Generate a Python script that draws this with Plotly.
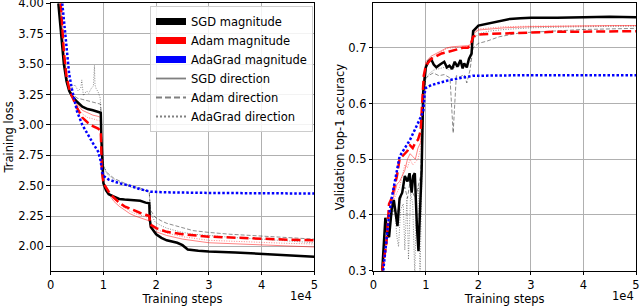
import plotly.graph_objects as go

# ---------------- Training loss (left panel) ----------------
loss_sgd_x = [1450, 2000, 2500, 3000, 3500, 4000, 5000, 6000, 7000, 8000, 9000, 9500, 9600, 9800, 10000, 10500, 11000, 12000, 13000, 14000, 15000, 16000, 17000, 18000, 18700, 18800, 19000, 20000, 21000, 22000, 23000, 24000, 25000, 26000, 28000, 30000, 35000, 40000, 45000, 50000]
loss_sgd = [4.00, 3.70, 3.50, 3.36, 3.28, 3.24, 3.19, 3.15, 3.13, 3.12, 3.11, 3.10, 2.90, 2.62, 2.52, 2.46, 2.43, 2.41, 2.39, 2.385, 2.38, 2.375, 2.375, 2.36, 2.355, 2.22, 2.16, 2.10, 2.07, 2.05, 2.04, 2.03, 2.01, 1.975, 1.965, 1.958, 1.95, 1.94, 1.93, 1.915]

loss_adam_x = [1900, 2500, 3000, 3500, 4000, 5000, 6000, 7000, 8000, 9000, 9500, 9700, 10000, 11000, 12000, 13000, 14000, 15000, 16000, 17000, 18000, 18700, 18900, 20000, 22000, 25000, 30000, 35000, 40000, 45000, 50000]
loss_adam = [4.00, 3.60, 3.40, 3.30, 3.24, 3.14, 3.06, 3.02, 2.99, 2.97, 2.95, 2.62, 2.52, 2.45, 2.40, 2.36, 2.33, 2.31, 2.29, 2.275, 2.26, 2.25, 2.18, 2.15, 2.12, 2.10, 2.08, 2.07, 2.06, 2.055, 2.05]

loss_adagrad_x = [2200, 2500, 3000, 3500, 4000, 4500, 5000, 6000, 7000, 8000, 9000, 9500, 9700, 10000, 11000, 13000, 15000, 17000, 19000, 22000, 30000, 40000, 50000]
loss_adagrad = [4.00, 3.85, 3.60, 3.42, 3.30, 3.20, 3.11, 3.00, 2.92, 2.85, 2.78, 2.70, 2.62, 2.58, 2.55, 2.52, 2.50, 2.47, 2.45, 2.445, 2.44, 2.44, 2.435]

# Adam magnitude + SGD direction (thin red solid)
loss_adam_sgd_x = [1900, 2500, 3000, 3500, 4000, 5000, 6000, 7000, 8000, 9000, 9500, 9700, 10000, 11000, 12000, 13000, 14000, 15000, 16000, 17000, 18000, 18700, 18900, 20000, 22000, 25000, 30000, 35000, 40000, 45000, 50000]
loss_adam_sgd = [4.00, 3.62, 3.41, 3.31, 3.25, 3.17, 3.12, 3.10, 3.08, 3.07, 3.06, 2.64, 2.52, 2.43, 2.37, 2.33, 2.30, 2.27, 2.25, 2.235, 2.22, 2.21, 2.15, 2.12, 2.09, 2.06, 2.03, 2.02, 2.01, 2.00, 1.995]

# Adam magnitude + AdaGrad direction (thin red dotted)
loss_adam_ada_x = [1900, 2500, 3000, 3500, 4000, 5000, 6000, 7000, 8000, 9000, 9500, 9700, 10000, 11000, 12000, 13000, 14000, 15000, 16000, 17000, 18000, 18700, 18900, 20000, 22000, 25000, 30000, 35000, 40000, 45000, 50000]
loss_adam_ada = [4.00, 3.61, 3.40, 3.30, 3.24, 3.15, 3.09, 3.06, 3.05, 3.04, 3.03, 2.63, 2.54, 2.44, 2.39, 2.35, 2.32, 2.29, 2.27, 2.255, 2.245, 2.235, 2.17, 2.14, 2.11, 2.08, 2.05, 2.04, 2.03, 2.025, 2.02]

# SGD magnitude + Adam direction (thin gray dashed)
loss_sgd_adam_x = [1450, 2000, 2500, 3000, 3500, 4000, 5000, 6000, 7000, 8000, 9000, 9500, 9700, 10000, 10600, 12000, 14000, 15000, 16000, 17000, 18000, 18700, 18900, 19800, 21000, 22000, 24500, 27000, 30000, 34000, 40000, 45000, 50000]
loss_sgd_adam = [4.00, 3.70, 3.50, 3.37, 3.30, 3.26, 3.22, 3.21, 3.20, 3.19, 3.18, 3.17, 2.80, 2.66, 2.61, 2.56, 2.52, 2.50, 2.49, 2.48, 2.46, 2.44, 2.30, 2.24, 2.21, 2.19, 2.16, 2.13, 2.115, 2.10, 2.085, 2.075, 2.06]

# SGD magnitude + AdaGrad direction (thin gray dotted)
loss_sgd_ada_x = [1450, 2000, 2500, 3000, 3500, 4000, 4600, 5200, 5700, 5900, 6200, 6800, 7200, 7700, 8100, 8300, 8400, 8600, 9000, 9400, 9700, 10000, 10600, 12000, 14000, 15000, 16000, 17000, 18000, 18700, 18900, 19800, 21000, 22000, 24500, 27000, 30000, 34000, 40000, 45000, 50000]
loss_sgd_ada = [4.00, 3.72, 3.52, 3.40, 3.33, 3.30, 3.33, 3.28, 3.30, 3.37, 3.24, 3.28, 3.26, 3.30, 3.32, 3.49, 3.33, 3.30, 3.27, 3.22, 2.85, 2.68, 2.60, 2.55, 2.51, 2.49, 2.48, 2.47, 2.46, 2.45, 2.28, 2.20, 2.17, 2.15, 2.12, 2.10, 2.09, 2.075, 2.06, 2.045, 2.03]

# ---------------- Validation accuracy (right panel) ----------------
acc_sgd_x = [1700, 2000, 2300, 2600, 3000, 3500, 3900, 4300, 4600, 5000, 5500, 6000, 6500, 6900, 7300, 7600, 7900, 8300, 8600, 8900, 9200, 9500, 10000, 10500, 11000, 11500, 12000, 12700, 13500, 14000, 14500, 15000, 15500, 16000, 16600, 17000, 17300, 17800, 18200, 18700, 19000, 20000, 21000, 22000, 23000, 24000, 25000, 26000, 28000, 30000, 35000, 40000, 45000, 50000]
acc_sgd = [0.30, 0.34, 0.395, 0.37, 0.36, 0.41, 0.427, 0.40, 0.38, 0.43, 0.44, 0.47, 0.46, 0.475, 0.44, 0.47, 0.475, 0.38, 0.335, 0.41, 0.48, 0.62, 0.665, 0.676, 0.68, 0.67, 0.665, 0.67, 0.675, 0.665, 0.668, 0.662, 0.675, 0.666, 0.678, 0.663, 0.672, 0.665, 0.68, 0.69, 0.73, 0.74, 0.742, 0.745, 0.747, 0.748, 0.75, 0.752, 0.753, 0.754, 0.754, 0.755, 0.756, 0.755]

acc_adam_x = [1700, 2500, 3000, 3500, 4000, 4500, 5000, 5500, 6000, 6500, 7000, 7500, 8000, 8500, 9000, 9300, 9600, 10000, 11000, 12000, 13000, 14000, 15000, 16000, 17000, 18000, 18500, 19000, 20000, 22000, 25000, 30000, 35000, 40000, 45000, 50000]
acc_adam = [0.30, 0.35, 0.42, 0.43, 0.45, 0.47, 0.50, 0.505, 0.51, 0.515, 0.525, 0.52, 0.53, 0.535, 0.55, 0.60, 0.65, 0.668, 0.68, 0.685, 0.69, 0.692, 0.695, 0.697, 0.70, 0.70, 0.705, 0.72, 0.724, 0.725, 0.726, 0.728, 0.729, 0.729, 0.73, 0.73]

acc_adagrad_x = [1900, 2500, 3000, 3500, 4000, 4500, 5000, 6000, 7000, 8000, 9000, 9500, 9800, 10000, 11000, 12000, 13000, 14000, 15000, 16000, 17000, 18000, 19000, 20000, 25000, 30000, 40000, 50000]
acc_adagrad = [0.30, 0.36, 0.40, 0.43, 0.455, 0.48, 0.505, 0.52, 0.535, 0.555, 0.575, 0.585, 0.62, 0.628, 0.633, 0.636, 0.639, 0.641, 0.643, 0.645, 0.646, 0.648, 0.65, 0.65, 0.651, 0.651, 0.651, 0.651]

acc_adam_sgd_x = [1700, 2500, 3000, 3500, 4000, 4500, 5000, 5500, 6000, 6500, 7000, 7500, 8000, 8500, 9000, 9300, 9600, 10000, 11000, 12000, 13000, 14000, 15000, 16000, 17000, 18000, 18500, 19000, 20000, 22000, 25000, 30000, 35000, 40000, 45000, 50000]
acc_adam_sgd = [0.30, 0.36, 0.40, 0.42, 0.44, 0.455, 0.46, 0.47, 0.48, 0.50, 0.51, 0.505, 0.50, 0.52, 0.53, 0.59, 0.65, 0.675, 0.685, 0.69, 0.695, 0.70, 0.702, 0.703, 0.704, 0.704, 0.706, 0.725, 0.732, 0.734, 0.736, 0.738, 0.739, 0.739, 0.74, 0.74]

acc_adam_ada_x = [1700, 2500, 3000, 3500, 4000, 4500, 5000, 5500, 6000, 6500, 7000, 7500, 8000, 8500, 9000, 9300, 9600, 10000, 11000, 12000, 13000, 14000, 15000, 16000, 17000, 18000, 18500, 19000, 20000, 22000, 25000, 30000, 35000, 40000, 45000, 50000]
acc_adam_ada = [0.30, 0.34, 0.38, 0.41, 0.43, 0.44, 0.45, 0.47, 0.49, 0.485, 0.50, 0.49, 0.495, 0.50, 0.52, 0.58, 0.64, 0.67, 0.68, 0.688, 0.694, 0.699, 0.70, 0.701, 0.702, 0.702, 0.705, 0.728, 0.734, 0.736, 0.738, 0.739, 0.739, 0.74, 0.74, 0.74]

acc_sgd_adam_x = [1700, 2300, 3000, 3500, 4000, 4500, 5000, 5500, 6000, 6500, 7000, 7500, 8000, 8500, 9000, 9300, 9600, 10000, 10500, 11400, 12500, 13500, 14600, 15200, 15800, 16500, 17300, 17800, 18400, 19000, 20000, 21600, 24000, 28000, 33000, 40000, 50000]
acc_sgd_adam = [0.30, 0.35, 0.37, 0.40, 0.41, 0.40, 0.42, 0.44, 0.45, 0.43, 0.46, 0.44, 0.43, 0.45, 0.47, 0.55, 0.62, 0.645, 0.65, 0.655, 0.65, 0.652, 0.646, 0.547, 0.65, 0.648, 0.652, 0.637, 0.66, 0.70, 0.708, 0.712, 0.72, 0.727, 0.73, 0.733, 0.735]

acc_sgd_ada_x = [1700, 2300, 3000, 3500, 4000, 4500, 4800, 5200, 5700, 6000, 6400, 6700, 7100, 7500, 7900, 8200, 8600, 8900, 9200, 9500, 10000, 10800, 11500, 12500, 13500, 14500, 15500, 16500, 17500, 18500, 19000, 20000, 22000, 25000, 30000, 40000, 50000]
acc_sgd_ada = [0.30, 0.36, 0.38, 0.40, 0.42, 0.36, 0.343, 0.41, 0.42, 0.337, 0.43, 0.32, 0.44, 0.42, 0.29, 0.43, 0.45, 0.29, 0.47, 0.60, 0.645, 0.655, 0.66, 0.662, 0.665, 0.66, 0.665, 0.668, 0.67, 0.675, 0.715, 0.725, 0.73, 0.733, 0.736, 0.738, 0.739]

step_ticks = [0, 10000, 20000, 30000, 40000, 50000]
step_tick_labels = ["0", "1", "2", "3", "4", "5"]
loss_ticks = [2.00, 2.25, 2.50, 2.75, 3.00, 3.25, 3.50, 3.75, 4.00]
acc_ticks = [0.3, 0.4, 0.5, 0.6, 0.7]

FONT = "DejaVu Sans"
FS = 11.5
THIN_RED = "rgba(255,0,0,0.55)"
THIN_GRAY = "rgba(0,0,0,0.5)"

fig = go.Figure()

def add_panel(xa, ya, series):
    for xs, ys, color, width, dash in series:
        fig.add_trace(go.Scatter(x=xs, y=ys, mode="lines", xaxis=xa, yaxis=ya,
                                 line=dict(color=color, width=width, dash=dash),
                                 showlegend=False, hoverinfo="skip"))

add_panel("x", "y", [
    (loss_sgd_adam_x, loss_sgd_adam, THIN_GRAY, 0.9, "4px,2px"),
    (loss_sgd_ada_x, loss_sgd_ada, THIN_GRAY, 0.9, "1px,1.5px"),
    (loss_adam_sgd_x, loss_adam_sgd, THIN_RED, 0.9, "solid"),
    (loss_adam_ada_x, loss_adam_ada, THIN_RED, 0.9, "1px,1.5px"),
    (loss_sgd_x, loss_sgd, "black", 2.5, "solid"),
    (loss_adam_x, loss_adam, "red", 2.5, "9px,4px"),
    (loss_adagrad_x, loss_adagrad, "blue", 2.5, "2.5px,2px"),
])
add_panel("x2", "y2", [
    (acc_sgd_adam_x, acc_sgd_adam, THIN_GRAY, 0.9, "4px,2px"),
    (acc_sgd_ada_x, acc_sgd_ada, THIN_GRAY, 0.9, "1px,1.5px"),
    (acc_adam_sgd_x, acc_adam_sgd, THIN_RED, 0.9, "solid"),
    (acc_adam_ada_x, acc_adam_ada, THIN_RED, 0.9, "1px,1.5px"),
    (acc_sgd_x, acc_sgd, "black", 2.5, "solid"),
    (acc_adam_x, acc_adam, "red", 2.5, "9px,4px"),
    (acc_adagrad_x, acc_adagrad, "blue", 2.5, "2.5px,2px"),
])

legend_entries = [
    ("SGD magnitude", "black", 7, "solid"),
    ("Adam magnitude", "red", 7, "solid"),
    ("AdaGrad magnitude", "blue", 7, "solid"),
    ("SGD direction", "gray", 1.8, "solid"),
    ("Adam direction", "gray", 1.8, "6px,3px"),
    ("AdaGrad direction", "gray", 1.8, "2px,2px"),
]
for name, color, width, dash in legend_entries:
    fig.add_trace(go.Scatter(x=[None], y=[None], mode="lines", name=name,
                             line=dict(color=color, width=width, dash=dash),
                             xaxis="x", yaxis="y", showlegend=True))

W, H = 640, 307
ydom = [1 - 270.7 / H, 1 - 3.3 / H]
axis_common = dict(showline=True, linecolor="black", linewidth=1, mirror=True,
                   ticks="outside", ticklen=3.5, tickwidth=1, tickcolor="black",
                   showgrid=True, gridcolor="#b0b0b0", gridwidth=1, zeroline=False,
                   automargin=False, ticklabeloverflow="allow",
                   tickfont=dict(family=FONT, size=FS, color="black"))

fig.update_layout(
    width=W, height=H, margin=dict(l=0, r=0, t=0, b=0),
    paper_bgcolor="white", plot_bgcolor="white",
    font=dict(family=FONT, size=FS, color="black"),
    xaxis=dict(domain=[50.7 / W, 314.3 / W], range=[0, 50000], tickvals=step_ticks,
               ticktext=step_tick_labels, anchor="y",
               title=dict(text="Training steps", standoff=1, font=dict(size=FS)), **axis_common),
    yaxis=dict(domain=ydom, range=[1.8, 4.0005], tickvals=loss_ticks, tickformat=".2f", anchor="x",
               title=dict(text="Training loss", standoff=2, font=dict(size=FS)), **axis_common),
    xaxis2=dict(domain=[373.3 / W, 636 / W], range=[0, 50000], tickvals=step_ticks,
                ticktext=step_tick_labels, anchor="y2",
                title=dict(text="Training steps", standoff=1, font=dict(size=FS)), **axis_common),
    yaxis2=dict(domain=ydom, range=[0.2999, 0.78], tickvals=acc_ticks, tickformat=".1f", anchor="x2",
                title=dict(text="Validation top-1 accuracy", standoff=1, font=dict(size=FS)), **axis_common),
    legend=dict(x=313 / W, xanchor="right", y=1 - 6 / H, yanchor="top",
                bgcolor="rgba(255,255,255,0.85)", bordercolor="#cccccc", borderwidth=1,
                font=dict(family=FONT, size=FS, color="black"),
                itemwidth=30, tracegroupgap=0),
    annotations=[
        dict(text="1e4", xref="paper", yref="paper", x=314.3 / W, y=1 - 296 / H,
             xanchor="right", yanchor="middle", showarrow=False, font=dict(family=FONT, size=FS)),
        dict(text="1e4", xref="paper", yref="paper", x=636 / W, y=1 - 296 / H,
             xanchor="right", yanchor="middle", showarrow=False, font=dict(family=FONT, size=FS)),
    ],
)

fig.write_html("out.html", config={"displayModeBar": False},
               post_script="document.body.style.margin='0px';document.body.style.overflow='hidden';")
